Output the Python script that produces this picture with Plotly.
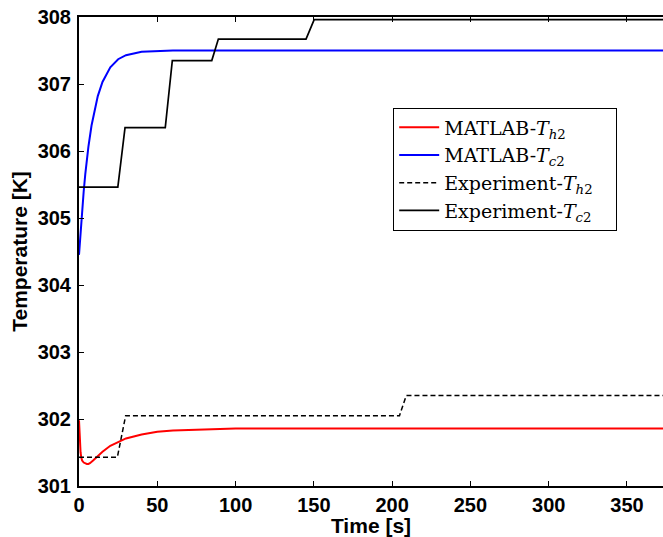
import plotly.graph_objects as go

# MATLAB model curves
t_h2_model = [0, 0.5, 1, 1.5, 2, 3, 4, 5, 6, 7, 9, 12, 15, 20, 25, 30, 40, 50, 60, 80, 100, 150, 200, 250, 300, 373]
T_h2_model = [301.98, 301.70, 301.50, 301.42, 301.38, 301.35, 301.335, 301.33, 301.33, 301.34, 301.38, 301.45,
              301.51, 301.60, 301.66, 301.71, 301.77, 301.81, 301.83, 301.85, 301.86, 301.86, 301.86, 301.86,
              301.86, 301.86]

t_c2_model = [0, 1, 2, 3, 4, 5, 6, 8, 10, 12, 15, 20, 25, 30, 40, 50, 60, 80, 100, 150, 200, 250, 300, 373]
T_c2_model = [304.45, 304.82, 305.13, 305.40, 305.65, 305.87, 306.06, 306.38, 306.63, 306.82, 307.03, 307.25,
              307.37, 307.43, 307.48, 307.49, 307.50, 307.50, 307.50, 307.50, 307.50, 307.50, 307.50, 307.50]

# Experimental step data
t_h2_exp = [0, 24.5, 29.8, 204.7, 209.0, 373]
T_h2_exp = [301.43, 301.43, 302.05, 302.05, 302.35, 302.35]

t_c2_exp = [0, 24.8, 29.4, 55.1, 59.6, 84.8, 89.0, 145.0, 150.2, 373]
T_c2_exp = [305.46, 305.46, 306.35, 306.35, 307.35, 307.35, 307.67, 307.67, 307.96, 307.96]

x_ticks = [0, 50, 100, 150, 200, 250, 300, 350]
y_ticks = [301, 302, 303, 304, 305, 306, 307, 308]

pad = "&nbsp;" * 3

fig = go.Figure()
fig.add_trace(go.Scatter(x=t_h2_model, y=T_h2_model, mode="lines",
                         line=dict(color="#ff0000", width=2),
                         name="MATLAB-<i>T</i><sub><i>h</i>2</sub>" + pad))
fig.add_trace(go.Scatter(x=t_c2_model, y=T_c2_model, mode="lines",
                         line=dict(color="#0000ff", width=2),
                         name="MATLAB-<i>T</i><sub><i>c</i>2</sub>" + pad))
fig.add_trace(go.Scatter(x=t_h2_exp, y=T_h2_exp, mode="lines",
                         line=dict(color="#000000", width=1.5, dash="5px,3px"),
                         name="Experiment-<i>T</i><sub><i>h</i>2</sub>" + pad))
fig.add_trace(go.Scatter(x=t_c2_exp, y=T_c2_exp, mode="lines",
                         line=dict(color="#000000", width=1.7),
                         name="Experiment-<i>T</i><sub><i>c</i>2</sub>" + pad))

tickfont = dict(family="Liberation Sans, Arial, sans-serif", size=20, color="black", weight="bold")
titlefont = dict(family="Liberation Sans, Arial, sans-serif", size=21, color="black", weight="bold")

fig.update_layout(
    width=663, height=537,
    margin=dict(l=79, r=0, t=17, b=51),
    paper_bgcolor="white", plot_bgcolor="white",
    showlegend=True,
    legend=dict(
        x=0.538, y=0.807, xanchor="left", yanchor="top",
        bgcolor="white", bordercolor="black", borderwidth=1,
        font=dict(family="DejaVu Serif, Liberation Serif, serif", size=19, color="black"),
        itemwidth=40, tracegroupgap=0,
    ),
    xaxis=dict(
        range=[0, 373], tickvals=x_ticks, ticks="inside", ticklen=5, tickcolor="black",
        showline=True, linecolor="black", linewidth=2, mirror="ticks",
        showgrid=False, zeroline=False, tickfont=tickfont,
        title=dict(text="Time [s]", font=titlefont, standoff=1),
    ),
    yaxis=dict(
        range=[301, 308], tickvals=y_ticks, ticks="inside", ticklen=5, tickcolor="black",
        showline=True, linecolor="black", linewidth=2, mirror=False,
        showgrid=False, zeroline=False, tickfont=tickfont, ticklabelstandoff=2,
        title=dict(text="Temperature [K]", font=titlefont, standoff=4),
    ),
)

fig.write_html("out.html")
